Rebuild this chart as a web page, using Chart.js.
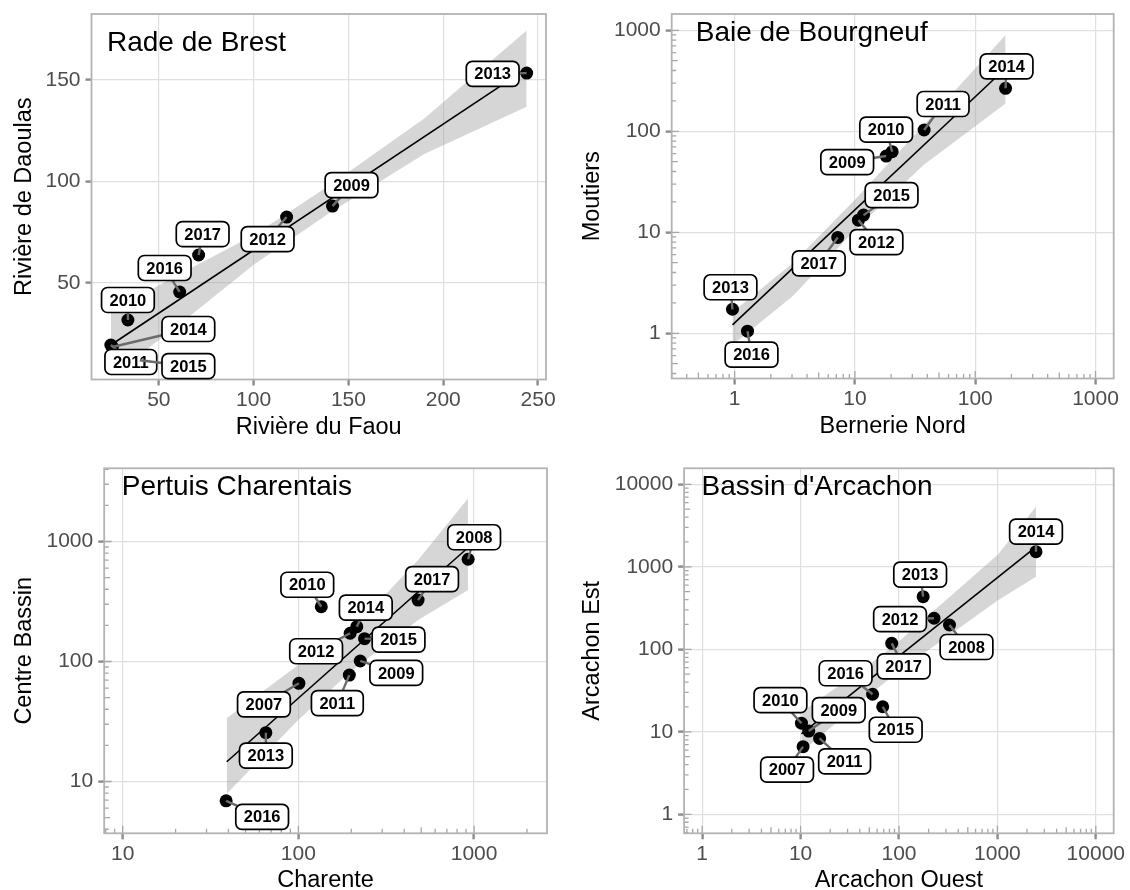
<!DOCTYPE html>
<html>
<head>
<meta charset="utf-8">
<script src="https://cdn.jsdelivr.net/npm/chart.js@4.4.1/dist/chart.umd.min.js"></script>
<style>
  html, body { margin: 0; padding: 0; background: #ffffff; }
  body { width: 1130px; height: 890px; position: relative; overflow: hidden; }
  .panel { position: absolute; width: 565px; height: 445px; }
  .panel canvas { display: block; }
</style>
</head>
<body>
<div class="panel" style="left:0;top:0"><canvas id="brest" width="565" height="445"></canvas></div>
<div class="panel" style="left:565px;top:0"><canvas id="bourgneuf" width="565" height="445"></canvas></div>
<div class="panel" style="left:0;top:445px"><canvas id="pertuis" width="565" height="445"></canvas></div>
<div class="panel" style="left:565px;top:445px"><canvas id="arcachon" width="565" height="445"></canvas></div>
<script>
// ---------- Rade de Brest ----------
const brestYears   = [2009, 2010, 2011, 2012, 2013, 2014, 2015, 2016, 2017];
const brestFaou    = [141.6, 33.7, 24.7, 117.4, 244, 25.5, 40, 61, 71];
const brestDaoulas = [87.9, 31.8, 19.5, 82.5, 153.4, 18.5, 12, 45.6, 63.8];
const brestFitX    = [24.7, 244];
const brestFitY    = [19.5, 155.6];
const brestBandX   = [24.7, 60, 100, 140, 190, 244];
const brestBandLo  = [4, 29, 59, 84.5, 113.5, 136.8];
const brestBandHi  = [35.9, 54, 73.5, 98, 131, 174.4];
const brestXTicks  = [50, 100, 150, 200, 250];
const brestYTicks  = [50, 100, 150];

// ---------- Baie de Bourgneuf ----------
const bourgYears    = [2009, 2010, 2011, 2012, 2013, 2014, 2015, 2016, 2017];
const bourgBernerie = [18.2, 20.4, 37.6, 10.7, 0.96, 178.7, 11.8, 1.28, 7.2];
const bourgMoutiers = [56.9, 62.8, 103, 13.2, 1.73, 266.6, 14.8, 1.05, 8.9];
const bourgFitX     = [0.96, 178.7];
const bourgFitY     = [1.21, 421];
const bourgBandX    = [0.96, 3.05, 9.95, 37.2, 178.7];
const bourgBandLo   = [0.766, 2.34, 10.5, 46.5, 189];
const bourgBandHi   = [1.62, 4.97, 20.9, 115, 897];
const bourgXTicks   = [1, 10, 100, 1000];
const bourgYTicks   = [1, 10, 100, 1000];

// ---------- Pertuis Charentais ----------
const pertYears    = [2007, 2008, 2009, 2010, 2011, 2012, 2013, 2014, 2015, 2016, 2017];
const pertCharente = [100.7, 925, 225, 135, 195, 197, 65.3, 215, 238, 38.8, 480];
const pertCentre   = [65.8, 711, 101, 286, 77, 172, 25.5, 195, 155, 6.9, 325];
const pertFitX     = [39.1, 925];
const pertFitY     = [14.6, 891];
const pertBandX    = [39.1, 99.8, 197, 480, 925];
const pertBandLo   = [7.91, 32.6, 81.8, 222, 394];
const pertBandHi   = [33.6, 93.5, 176, 701, 2290];
const pertXTicks   = [10, 100, 1000];
const pertYTicks   = [10, 100, 1000];

// ---------- Bassin d'Arcachon ----------
const arcYears  = [2007, 2008, 2009, 2010, 2011, 2012, 2013, 2014, 2015, 2016, 2017];
const arcOuest  = [10.6, 326, 12.1, 10.2, 15.6, 227, 176, 2467, 68.3, 53.9, 84.3];
const arcEst    = [6.6, 197, 10.2, 12.7, 8.3, 238, 434, 1524, 20.1, 28.5, 118];
const arcFitX   = [10.2, 2467];
const arcFitY   = [9.4, 1738];
const arcBandX  = [10.2, 54.4, 102, 1014, 2467];
const arcBandLo = [5.69, 30.4, 55.3, 392, 759];
const arcBandHi = [17.4, 70.2, 128, 1413, 5354];
const arcXTicks = [1, 10, 100, 1000, 10000];
const arcYTicks = [1, 10, 100, 1000, 10000];

// Label placement: pixel offset of each year tag from its point (repelled labels)
const brestLabelOffsets = [[19,-21],[0,-20],[20,17],[-19,22],[-34,0.7],[76,-18],[48.5,6],[-15,-24],[4,-21]];
const bourgLabelOffsets = [[-39,6],[-6,-22],[19,-26],[18,22],[-2,-22],[1,-22],[28,-20],[4,23.5],[-19,26]];
const pertLabelOffsets  = [[-35,21],[6,-22],[36,12],[-14,-22],[-12,28],[-34,18],[0,23],[9,-19],[34,1],[36,16],[14,-21]];
const arcLabelOffsets   = [[-16,23],[17,22],[30,-21],[-21,-23],[25,23],[-34,1],[-3,-22],[0,-20],[13,23],[-27,-21],[12,23]];

const FONT = '"Liberation Sans", Arial, Helvetica, sans-serif';

const zip = (xs, ys) => xs.map((v, i) => ({ x: v, y: ys[i] }));

function roundRect(ctx, x, y, w, h, r) {
  ctx.beginPath();
  ctx.moveTo(x + r, y);
  ctx.lineTo(x + w - r, y);
  ctx.arcTo(x + w, y, x + w, y + r, r);
  ctx.lineTo(x + w, y + h - r);
  ctx.arcTo(x + w, y + h, x + w - r, y + h, r);
  ctx.lineTo(x + r, y + h);
  ctx.arcTo(x, y + h, x, y + h - r, r);
  ctx.lineTo(x, y + r);
  ctx.arcTo(x, y, x + r, y, r);
  ctx.closePath();
}

function drawLogTicks(ctx, scale, area, horizontal) {
  const lo = Math.floor(Math.log10(scale.min));
  const hi = Math.ceil(Math.log10(scale.max));
  ctx.beginPath();
  for (let d = lo; d <= hi; d++) {
    for (let m = 1; m <= 9; m++) {
      const v = m * Math.pow(10, d);
      if (v < scale.min || v > scale.max) continue;
      const len = m === 1 ? 7.5 : (m === 5 ? 6 : 4.5);
      const p = scale.getPixelForValue(v);
      if (horizontal) { ctx.moveTo(p, area.bottom); ctx.lineTo(p, area.bottom - len); }
      else { ctx.moveTo(area.left, p); ctx.lineTo(area.left + len, p); }
    }
  }
  ctx.stroke();
}

// Frame, log ticks, titles and repelled year labels
const decor = {
  id: 'decor',
  afterDatasetsDraw(chart) {
    const o = chart.options.plugins.decor;
    const ctx = chart.ctx;
    const a = chart.chartArea;
    const sx = chart.scales.x, sy = chart.scales.y;
    ctx.save();

    if (o.log) {
      ctx.strokeStyle = '#a6a6a6';
      ctx.lineWidth = 1.3;
      drawLogTicks(ctx, sx, a, true);
      drawLogTicks(ctx, sy, a, false);
    }

    ctx.strokeStyle = '#b3b3b3';
    ctx.lineWidth = 1.8;
    ctx.strokeRect(a.left, a.top, a.right - a.left, a.bottom - a.top);

    ctx.fillStyle = '#000';
    ctx.textBaseline = 'alphabetic';
    ctx.textAlign = 'left';
    ctx.font = '28px ' + FONT;
    ctx.fillText(o.title, a.left + o.titleDx, a.top + o.titleDy);

    ctx.font = '23.5px ' + FONT;
    ctx.textAlign = 'center';
    ctx.fillText(o.xTitle, (a.left + a.right) / 2, a.bottom + 54);
    ctx.save();
    ctx.translate(o.yTitleX, (a.top + a.bottom) / 2);
    ctx.rotate(-Math.PI / 2);
    ctx.fillText(o.yTitle, 0, 0);
    ctx.restore();

    ctx.font = 'bold 16.5px ' + FONT;
    ctx.textBaseline = 'middle';
    o.years.forEach((yr, i) => {
      const px = sx.getPixelForValue(o.xs[i]);
      const py = sy.getPixelForValue(o.ys[i]);
      const lx = px + o.offsets[i][0];
      const ly = py + o.offsets[i][1];
      ctx.strokeStyle = '#6b6b6b';
      ctx.lineWidth = 2.4;
      ctx.beginPath();
      ctx.moveTo(px, py);
      ctx.lineTo(lx, ly);
      ctx.stroke();
      const txt = String(yr);
      const w = ctx.measureText(txt).width + 16;
      const h = 25;
      roundRect(ctx, lx - w / 2, ly - h / 2, w, h, 6);
      ctx.fillStyle = '#fff';
      ctx.fill();
      ctx.strokeStyle = '#000';
      ctx.lineWidth = 1.7;
      ctx.stroke();
      ctx.fillStyle = '#000';
      ctx.textAlign = 'center';
      ctx.fillText(txt, lx, ly + 1);
    });
    ctx.restore();
  }
};

function axis(type, min, max, ticks, fitSize, horizontal) {
  return {
    type: type,
    min: min,
    max: max,
    afterBuildTicks: s => { s.ticks = ticks.map(v => ({ value: v })); },
    afterFit: s => {
      if (horizontal) { s.height = fitSize; s.paddingLeft = 0; s.paddingRight = 0; }
      else { s.width = fitSize; s.paddingTop = 0; s.paddingBottom = 0; }
    },
    grid: { color: '#e0e0e0', lineWidth: 1.2, tickColor: '#8c8c8c', tickWidth: 2.4, tickLength: 6 },
    border: { display: false },
    ticks: {
      autoSkip: false, maxRotation: 0, minRotation: 0,
      padding: horizontal ? 2 : 5,
      color: '#4d4d4d',
      font: { family: FONT, size: 21 },
      callback: (v, i) => String(ticks[i])
    }
  };
}

function makePanel(id, p) {
  return new Chart(document.getElementById(id), {
    type: 'scatter',
    data: {
      datasets: [
        { data: zip(p.bandX, p.bandHi), showLine: true, borderWidth: 0, pointRadius: 0,
          fill: '+1', backgroundColor: 'rgba(153,153,153,0.4)', order: 3 },
        { data: zip(p.bandX, p.bandLo), showLine: true, borderWidth: 0, pointRadius: 0,
          fill: false, order: 2 },
        { data: zip(p.fitX, p.fitY), showLine: true, borderColor: '#000', borderWidth: 1.6,
          pointRadius: 0, fill: false, order: 1 },
        { data: zip(p.xs, p.ys), pointRadius: 6.5, pointBackgroundColor: '#000',
          pointBorderColor: '#000', pointBorderWidth: 0, order: 0 }
      ]
    },
    options: {
      responsive: false,
      animation: false,
      events: [],
      layout: { padding: { top: p.padTop, right: p.padRight, left: 0, bottom: 0 } },
      plugins: {
        legend: { display: false },
        tooltip: { enabled: false },
        decor: p
      },
      scales: {
        x: axis(p.xType, p.xMin, p.xMax, p.xTicks, p.xAxisH, true),
        y: axis(p.yType, p.yMin, p.yMax, p.yTicks, p.yAxisW, false)
      }
    },
    plugins: [decor]
  });
}

makePanel('brest', {
  title: 'Rade de Brest', xTitle: 'Rivière du Faou', yTitle: 'Rivière de Daoulas',
  years: brestYears, xs: brestFaou, ys: brestDaoulas, offsets: brestLabelOffsets,
  fitX: brestFitX, fitY: brestFitY, bandX: brestBandX, bandLo: brestBandLo, bandHi: brestBandHi,
  xType: 'linear', yType: 'linear', xTicks: brestXTicks, yTicks: brestYTicks,
  xMin: 14.5, xMax: 254.2, yMin: 2.5, yMax: 182.5,
  padTop: 14, padRight: 19, yAxisW: 91.5, xAxisH: 65.5,
  titleDx: 15.5, titleDy: 37, yTitleX: 30.5, log: false
});

makePanel('bourgneuf', {
  title: 'Baie de Bourgneuf', xTitle: 'Bernerie Nord', yTitle: 'Moutiers',
  years: bourgYears, xs: bourgBernerie, ys: bourgMoutiers, offsets: bourgLabelOffsets,
  fitX: bourgFitX, fitY: bourgFitY, bandX: bourgBandX, bandLo: bourgBandLo, bandHi: bourgBandHi,
  xType: 'logarithmic', yType: 'logarithmic', xTicks: bourgXTicks, yTicks: bourgYTicks,
  xMin: 0.349, xMax: 1416, yMin: 0.357, yMax: 1450,
  padTop: 14, padRight: 16.3, yAxisW: 106.7, xAxisH: 66.5,
  titleDx: 24, titleDy: 26.5, yTitleX: 33.5, log: true
});

makePanel('pertuis', {
  title: 'Pertuis Charentais', xTitle: 'Charente', yTitle: 'Centre Bassin',
  years: pertYears, xs: pertCharente, ys: pertCentre, offsets: pertLabelOffsets,
  fitX: pertFitX, fitY: pertFitY, bandX: pertBandX, bandLo: pertBandLo, bandHi: pertBandHi,
  xType: 'logarithmic', yType: 'logarithmic', xTicks: pertXTicks, yTicks: pertYTicks,
  xMin: 7.85, xMax: 2600, yMin: 3.7, yMax: 4074,
  padTop: 23.3, padRight: 18, yAxisW: 104.2, xAxisH: 56.7,
  titleDx: 17.5, titleDy: 26.5, yTitleX: 30.5, log: true
});

makePanel('arcachon', {
  title: "Bassin d'Arcachon", xTitle: 'Arcachon Ouest', yTitle: 'Arcachon Est',
  years: arcYears, xs: arcOuest, ys: arcEst, offsets: arcLabelOffsets,
  fitX: arcFitX, fitY: arcFitY, bandX: arcBandX, bandLo: arcBandLo, bandHi: arcBandHi,
  xType: 'logarithmic', yType: 'logarithmic', xTicks: arcXTicks, yTicks: arcYTicks,
  xMin: 0.655, xMax: 15200, yMin: 0.588, yMax: 15630,
  padTop: 23.3, padRight: 16.3, yAxisW: 119.1, xAxisH: 56.7,
  titleDx: 17.4, titleDy: 27, yTitleX: 33.5, log: true
});
</script>
</body>
</html>
